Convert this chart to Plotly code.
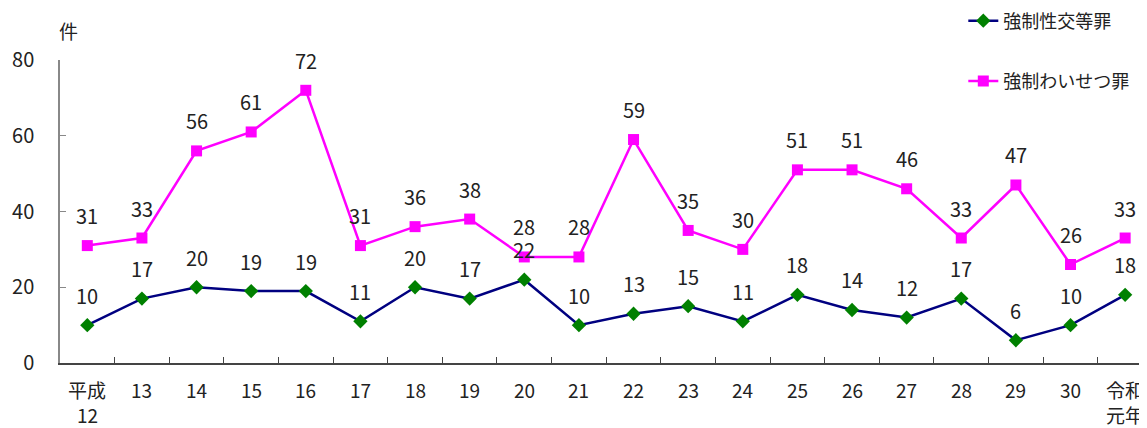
import plotly.graph_objects as go

categories = ["平成12", "13", "14", "15", "16", "17", "18", "19", "20", "21",
              "22", "23", "24", "25", "26", "27", "28", "29", "30", "令和元年"]
label_line1 = ["平成", "13", "14", "15", "16", "17", "18", "19", "20", "21",
               "22", "23", "24", "25", "26", "27", "28", "29", "30", "令和"]
label_line2 = ["12", "", "", "", "", "", "", "", "", "",
               "", "", "", "", "", "", "", "", "", "元年"]
rape = [10, 17, 20, 19, 19, 11, 20, 17, 22, 10, 13, 15, 11, 18, 14, 12, 17, 6, 10, 18]
indecent = [31, 33, 56, 61, 72, 31, 36, 38, 28, 28, 59, 35, 30, 51, 51, 46, 33, 47, 26, 33]
series_names = ["強制性交等罪", "強制わいせつ罪"]

FONT = "Noto Sans CJK JP, Noto Sans, sans-serif"
TXT = "#222222"

fig = go.Figure()
fig.add_trace(go.Scatter(
    x=categories, y=rape, name=series_names[0], mode="lines+markers",
    line=dict(color="#000080", width=2.5),
    marker=dict(symbol="diamond", size=11, color="#008000"),
    legendgroup="a",
))
fig.add_trace(go.Scatter(
    x=categories, y=indecent, name=series_names[1], mode="lines+markers",
    line=dict(color="#FF00FF", width=2.5),
    marker=dict(symbol="square", size=11, color="#FF00FF"),
    legendgroup="b",
))

annotations = []
for series in (rape, indecent):
    for i, v in enumerate(series):
        annotations.append(dict(x=i, y=v, text=str(v), showarrow=False, yshift=30,
                                font=dict(size=20, color=TXT, family=FONT)))
for i, (t1, t2) in enumerate(zip(label_line1, label_line2)):
    annotations.append(dict(x=i, xref="x", y=0, yref="paper", text=t1, showarrow=False,
                            yanchor="middle", yshift=-26,
                            font=dict(size=19, color=TXT, family=FONT)))
    if t2:
        annotations.append(dict(x=i, xref="x", y=0, yref="paper", text=t2, showarrow=False,
                                yanchor="middle", yshift=-51,
                                font=dict(size=19, color=TXT, family=FONT)))
annotations.append(dict(xref="paper", yref="paper", x=0, y=1, xshift=8, yshift=30,
                        xanchor="center", yanchor="middle",
                        text="件", showarrow=False,
                        font=dict(size=19, color=TXT, family=FONT)))

fig.update_layout(
    width=1139, height=420,
    margin=dict(l=52, r=0, t=52, b=65, autoexpand=False),
    paper_bgcolor="white", plot_bgcolor="white",
    font=dict(family=FONT, size=20, color=TXT),
    showlegend=True,
    legend=dict(x=0.831, y=1.19, xanchor="left", yanchor="top",
                font=dict(size=18, color=TXT, family=FONT),
                tracegroupgap=34, traceorder="grouped",
                bgcolor="rgba(0,0,0,0)"),
    annotations=annotations,
    xaxis=dict(
        type="category", range=[-0.5, 19.4],
        showline=True, linecolor="#444444", linewidth=1.5,
        ticks="inside", tickson="boundaries", ticklen=6, tickcolor="#444444",
        showgrid=False, zeroline=False, automargin=False,
        showticklabels=False,
    ),
    yaxis=dict(
        range=[0, 80], tickvals=[0, 20, 40, 60, 80],
        showline=True, linecolor="#888888", linewidth=1.5,
        ticks="inside", ticklen=6, tickcolor="#888888",
        showgrid=False, zeroline=False, automargin=False,
        ticklabelstandoff=20,
        tickfont=dict(size=20, color=TXT, family=FONT),
    ),
)

fig.write_html("out.html")
